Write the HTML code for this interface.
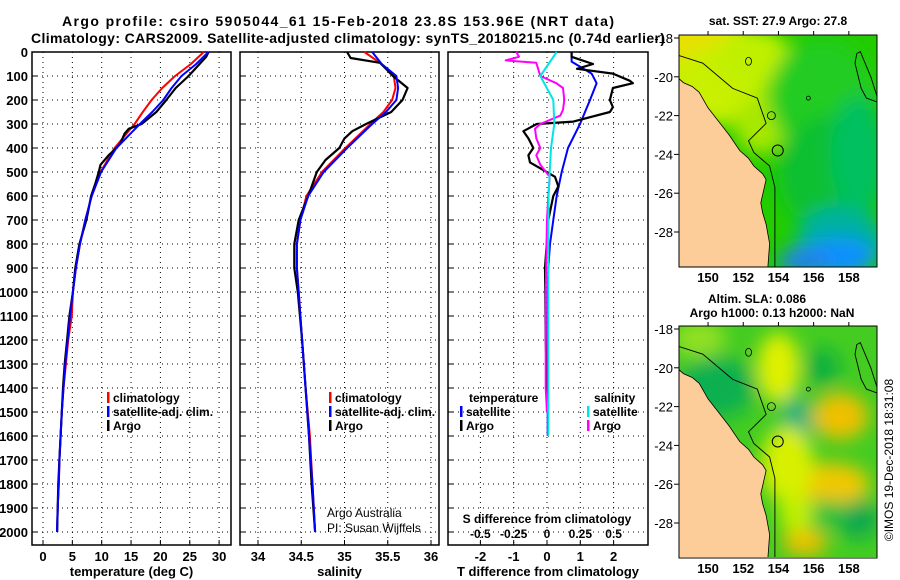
<!DOCTYPE html>
<html><head><meta charset="utf-8"><title>Argo profile</title>
<style>
html,body{margin:0;padding:0;background:#fff;}
svg{display:block;font-family:"Liberation Sans",Arial,sans-serif;font-weight:bold;}
text{fill:#000;}
</style></head>
<body>
<svg id="fig" width="900" height="580" viewBox="0 0 900 580" xmlns="http://www.w3.org/2000/svg">
<defs>
<filter id="blur1" x="-50%" y="-50%" width="200%" height="200%"><feGaussianBlur stdDeviation="9"/></filter>
<clipPath id="clipMap1"><rect x="679" y="35" width="198" height="232"/></clipPath>
<clipPath id="clipMap2"><rect x="679" y="326" width="198" height="231"/></clipPath>
</defs>
<text x="338" y="26" text-anchor="middle" font-size="14" textLength="552">Argo profile: csiro 5905044_61 15-Feb-2018 23.8S 153.96E (NRT data)</text>
<text x="348" y="43" text-anchor="middle" font-size="14" textLength="634">Climatology: CARS2009. Satellite-adjusted climatology: synTS_20180215.nc (0.74d earlier)</text>
<g id="panels"></g>
<g id="maps"></g>
<text transform="translate(893,460) rotate(-90)" text-anchor="middle" font-size="12" font-weight="normal">©IMOS 19-Dec-2018 18:31:08</text>
</svg>
<script>
// ---------- data ----------
const depthTicks = [0,100,200,300,400,500,600,700,800,900,1000,1100,1200,1300,1400,1500,1600,1700,1800,1900,2000];
const tempTicks = [0,5,10,15,20,25,30];
const salTicks = [34,34.5,35,35.5,36];
const tdiffTicks = [-2,-1,0,1,2];
const sdiffTicks = [-0.5,-0.25,0,0.25,0.5];
const sdiffTickLabels = ["-0.5","-0.25","0","0.25","0.5"];

// temperature profiles
const tArgoDepth = [0,20,60,100,150,200,250,300,320,340,380,400,430,470,500,550,600,650,700,800,900,1000,1100,1200,1300,1400,1500,1600,1700,1800,1900,2000];
const tArgoVal   = [28.2,27.8,26.3,24.8,22.6,21.0,19.3,16.8,14.6,13.9,13.2,12.5,11.2,9.8,9.5,8.9,8.2,7.8,7.4,6.2,5.5,5.1,4.5,4.1,3.7,3.4,3.2,3.0,2.8,2.6,2.5,2.4];
const tClimDepth = [0,50,100,150,200,250,300,400,500,600,700,800,900,1000,1100,1200,1300,1400,1500,1600,1700,1800,1900,2000];
const tClimVal   = [27.4,25.2,22.5,20.3,18.5,17.0,15.6,12.2,9.8,8.3,7.2,6.3,5.6,5.1,4.9,4.3,3.9,3.5,3.2,3.0,2.8,2.7,2.5,2.4];
const tSatDepth  = [0,50,100,150,200,250,300,400,500,600,700,800,900,1000,1100,1200,1300,1400,1500,1600,1700,1800,1900,2000];
const tSatVal    = [28.2,26.1,23.6,21.9,20.5,18.6,16.5,12.5,9.9,8.3,7.2,6.3,5.6,5.1,4.6,4.2,3.8,3.5,3.2,3.0,2.8,2.7,2.5,2.4];

// salinity profiles
const sArgoDepth = [0,25,45,70,100,150,200,250,300,330,360,400,450,500,600,700,800,900,1000,1200,1400,1600,1800,2000];
const sArgoVal   = [35.03,35.07,35.41,35.48,35.56,35.73,35.67,35.54,35.25,35.09,35.00,34.94,34.78,34.68,34.58,34.47,34.42,34.42,34.46,34.51,34.55,34.59,34.62,34.66];
const sClimDepth = [0,50,100,150,200,250,300,400,500,600,700,800,900,1000,1200,1400,1600,1800,2000];
const sClimVal   = [35.23,35.43,35.57,35.59,35.55,35.45,35.30,35.01,34.74,34.56,34.49,34.45,34.45,34.47,34.51,34.55,34.60,34.63,34.66];
const sSatDepth  = [0,50,100,150,200,250,300,400,500,600,700,800,900,1000,1200,1400,1600,1800,2000];
const sSatVal    = [35.32,35.43,35.60,35.62,35.60,35.48,35.32,35.03,34.76,34.58,34.49,34.45,34.45,34.47,34.51,34.55,34.59,34.63,34.66];

// differences from climatology
const dTSatDepth = [0,40,90,130,200,300,400,500,600,700,800,900,1000,1200,1400,1600];
const dTSatVal   = [0.74,0.74,1.34,1.49,1.29,0.99,0.63,0.44,0.29,0.19,0.09,0.04,0.02,0.02,0.02,0.02];
const dTArgoDepth = [0,20,50,70,90,120,130,150,200,230,250,290,300,330,360,400,430,460,500,520,560,600,700,800,900,1000,1200,1400,1500];
const dTArgoVal   = [0.74,0.74,1.38,0.9,1.98,2.49,2.58,1.98,1.89,1.98,1.89,0.79,-0.31,-0.71,-0.56,-0.41,-0.56,-0.51,-0.01,0.24,0.34,0.19,0.04,-0.01,-0.06,-0.05,-0.04,0.0,0.0];
const dSSatDepth = [0,100,200,300,400,500,600,800,1000,1200,1400,1600];
const dSSatVal   = [0.073,-0.05,0.047,0.055,0.03,0.02,0.012,0.01,0.01,0.01,0.01,0.01];
const dSArgoDepth = [0,20,35,45,100,130,150,200,240,265,300,320,360,400,430,470,520,600,700,1000,1200,1400,1500];
const dSArgoVal   = [-0.23,-0.21,-0.31,-0.08,-0.05,0.07,0.12,0.13,0.12,0.10,-0.05,-0.09,-0.08,-0.05,-0.08,-0.05,0.02,0.01,0.0,-0.01,-0.01,-0.01,0.0];

// map info
const mapLonTicks = [150,152,154,156,158];
const mapLatTicks = [-18,-20,-22,-24,-26,-28];
const coastLon = [148.35,148.6,149.1,149.5,150.0,150.6,151.2,151.8,152.3,152.6,153.1,153.3,153.0,153.1,153.3,153.5,153.4,148.35];
const coastLat = [-20.1,-20.3,-20.5,-20.8,-21.6,-22.3,-23.0,-23.8,-24.2,-24.6,-25.0,-25.3,-26.5,-27.0,-27.6,-28.6,-29.8,-29.8];
const isoLon = [148.35,149.7,151.4,152.8,153.3,152.3,152.6,153.5,153.8,153.8];
const isoLat = [-18.9,-19.3,-20.6,-21.1,-22.4,-23.3,-23.9,-24.6,-25.7,-29.8];
const iso2Lon = [159.6,159.0,158.7,158.35,158.45,158.65,159.25,159.6];
const iso2Lat = [-21.3,-21.1,-20.6,-19.3,-18.8,-18.7,-20.0,-21.0];
const argoLon = 153.96, argoLat = -23.8;

// ---------- helpers ----------
const NS = "http://www.w3.org/2000/svg";
function mk(tag, attrs, parent){ const e=document.createElementNS(NS,tag); for(const k in attrs) e.setAttribute(k,attrs[k]); parent.appendChild(e); return e; }
const Y0 = 52, YS = 0.24, YB = 545;
const yD = d => Y0 + d*YS;
const panelsG = document.getElementById('panels');
const mapsG = document.getElementById('maps');

function panel(name, x0, x1, xf, ticks, tickLabels, xlabel){
  const g = mk('g',{},panelsG);
  
  
  depthTicks.forEach(d=>{
    const l=mk('line',{x1:x0,x2:x1,y1:yD(d),y2:yD(d),stroke:'#000','stroke-width':1,'stroke-dasharray':'1,4'},g);
    
    
    const t=mk('line',{x1:x0,x2:x0+5,y1:yD(d),y2:yD(d),stroke:'#000','stroke-width':1},g);
    
    
  });
  ticks.forEach((v,i)=>{
    const x=xf(v);
    const l=mk('line',{x1:x,x2:x,y1:Y0,y2:YB,stroke:'#000','stroke-width':1,'stroke-dasharray':'1,4'},g);
    
    
    const t=mk('line',{x1:x,x2:x,y1:YB,y2:YB-5,stroke:'#000'},g);
    
    
    const tl=mk('text',{x:x,y:561,'text-anchor':'middle','font-size':13},g);
    tl.textContent = tickLabels[i];
    
    
  });
  const r=mk('rect',{x:x0,y:Y0,width:x1-x0,height:YB-Y0,fill:'none',stroke:'#000','stroke-width':1.5},g);
  
  
  const xl=mk('text',{x:(x0+x1)/2,y:576,'text-anchor':'middle','font-size':13},g);
  xl.textContent=xlabel;
  
  
  return g;
}
function line(g, name, depths, vals, xf, color, w){
  const pts = depths.map((d,i)=>xf(vals[i]).toFixed(1)+','+yD(d).toFixed(1)).join(' ');
  const p=mk('polyline',{points:pts,fill:'none',stroke:color,'stroke-width':w||2,'stroke-linejoin':'round'},g);
  
  
}
function legend(g, x, y, items){
  items.forEach((it,i)=>{
    const yy=y+i*14;
    const m=mk('rect',{x:x,y:yy-10,width:2.5,height:11,fill:it[1]},g);
    
    
    const t=mk('text',{x:x+6,y:yy,'font-size':12},g);
    t.textContent=it[0];
    
    
  });
}

depthTicks.forEach(d=>{
  const t=mk('text',{x:28,y:yD(d)+5,'text-anchor':'end','font-size':13},panelsG);
  t.textContent=d;
  
  
});

// panel 1: temperature
const xT = v => 43 + v*5.87;
const p1 = panel('temperature-panel', 32, 231, xT, tempTicks, tempTicks.map(String), 'temperature (deg C)');
line(p1,'temp-climatology-line',tClimDepth,tClimVal,xT,'#ff0000');
line(p1,'temp-argo-line',tArgoDepth,tArgoVal,xT,'#000000',2.2);
line(p1,'temp-satellite-line',tSatDepth,tSatVal,xT,'#0000ff');
legend(p1,107,402,[['climatology','#ff0000'],['satellite-adj. clim.','#0000ff'],['Argo','#000']]);

// panel 2: salinity
const xS = v => 258 + (v-34)*86.5;
const p2 = panel('salinity-panel', 240, 439, xS, salTicks, ['34','34.5','35','35.5','36'], 'salinity');
line(p2,'sal-climatology-line',sClimDepth,sClimVal,xS,'#ff0000');
line(p2,'sal-argo-line',sArgoDepth,sArgoVal,xS,'#000000',2.2);
line(p2,'sal-satellite-line',sSatDepth,sSatVal,xS,'#0000ff');
legend(p2,329,402,[['climatology','#ff0000'],['satellite-adj. clim.','#0000ff'],['Argo','#000']]);
[['Argo Australia',517],['PI: Susan Wijffels',532]].forEach(a=>{
  const t=mk('text',{x:327,y:a[1],'font-size':12,'font-weight':'normal'},p2);
  t.textContent=a[0];
  
  
});

// panel 3: differences
const xTD = v => 547 + v*33.3;
const xSD = v => 547 + v*133.3;
const p3 = panel('difference-panel', 448, 648, xTD, tdiffTicks, tdiffTicks.map(String), 'T difference from climatology');
line(p3,'tdiff-satellite-line',dTSatDepth,dTSatVal,xTD,'#0000ff');
line(p3,'tdiff-argo-line',dTArgoDepth,dTArgoVal,xTD,'#000000',2.2);
line(p3,'sdiff-argo-line',dSArgoDepth,dSArgoVal,xSD,'#ff00ff');
line(p3,'sdiff-satellite-line',dSSatDepth,dSSatVal,xSD,'#00e5e5');
sdiffTicks.forEach((v,i)=>{
  const t=mk('text',{x:xSD(v),y:538,'text-anchor':'middle','font-size':12},p3);
  t.textContent=sdiffTickLabels[i];
  
  
});
{
  const t=mk('text',{x:547,y:523,'text-anchor':'middle','font-size':12},p3);
  t.textContent='S difference from climatology';
  
  
  const a=mk('text',{x:469,y:402,'font-size':12},p3);
  a.textContent='temperature';
  
  
  const b=mk('text',{x:594,y:402,'font-size':12},p3);
  b.textContent='salinity';
  
  
}
legend(p3,460,416,[['satellite','#0000ff'],['Argo','#000']]);
legend(p3,587,416,[['satellite','#00e5e5'],['Argo','#ff00ff']]);

// ---------- maps ----------
function drawMap(name, top, titleLines, blobs, baseColor, clipId){
  const g=mk('g',{},mapsG);
  
  
  const X = l => 679 + (l-148.35)*17.6;
  const Y = la => top+3 + (-18-la)*19.4;
  const bottom = top+232;
  const cg=mk('g',{'clip-path':'url(#'+clipId+')'},g);
  mk('rect',{x:679,y:top,width:198,height:232,fill:baseColor},cg);
  const bg=mk('g',{filter:'url(#blur1)'},cg);
  blobs.forEach(b=>{
    const e=mk('ellipse',{cx:X(b[0]),cy:Y(b[1]),rx:b[2]*17.6,ry:b[3]*19.4,fill:b[4]},bg);
    
    
  });
  const land=mk('polygon',{points:coastLon.map((l,i)=>X(l).toFixed(1)+','+Y(coastLat[i]).toFixed(1)).join(' '),fill:'#fccc99',stroke:'#000','stroke-width':0.8},cg);
  
  
  const iso=mk('polyline',{points:isoLon.map((l,i)=>X(l).toFixed(1)+','+Y(isoLat[i]).toFixed(1)).join(' '),fill:'none',stroke:'#000','stroke-width':0.9},cg);
  
  
  const iso2=mk('polyline',{points:iso2Lon.map((l,i)=>X(l).toFixed(1)+','+Y(iso2Lat[i]).toFixed(1)).join(' '),fill:'none',stroke:'#000','stroke-width':0.9},cg);
  
  
  [[152.3,-19.2,3,4],[153.6,-22.0,4,4],[155.7,-21.1,2,2]].forEach(c=>{
    const e=mk('ellipse',{cx:X(c[0]),cy:Y(c[1]),rx:c[2],ry:c[3],fill:'none',stroke:'#000','stroke-width':0.8},cg);
    
    
  });
  const pos=mk('circle',{cx:X(argoLon),cy:Y(argoLat),r:5.5,fill:'none',stroke:'#000','stroke-width':1},cg);
  
  
  const fr=mk('rect',{x:679,y:top,width:198,height:232,fill:'none',stroke:'#000','stroke-width':1},g);
  
  
  mapLatTicks.forEach(la=>{
    const t=mk('text',{x:673,y:Y(la)+5,'text-anchor':'end','font-size':13,'font-weight':'normal'},g);
    t.textContent=la;
    
    
    const tk=mk('line',{x1:674,x2:679,y1:Y(la),y2:Y(la),stroke:'#000'},g);
    
    
  });
  mapLonTicks.forEach(lo=>{
    const t=mk('text',{x:X(lo),y:bottom+15,'text-anchor':'middle','font-size':13},g);
    t.textContent=lo;
    
    
    const tk=mk('line',{x1:X(lo),x2:X(lo),y1:top-4,y2:top,stroke:'#000'},g);
    
    
  });
  titleLines.forEach((s,i)=>{
    const t=mk('text',{x:s[1],y:s[2],'text-anchor':'middle','font-size':12},g);
    t.textContent=s[0];
    
    
  });
}
drawMap('sst-map',35,[['sat. SST: 27.9 Argo: 27.8',778,25]],[
  [149.5,-18.5,3,2.2,'#e8e000'],
  [150.5,-20.5,2.8,2,'#c8f000'],
  [152.5,-19,2.2,1.5,'#c0f000'],
  [153,-22.5,1.5,1.5,'#a8e800'],
  [156.5,-21,3,3,'#22cc22'],
  [157,-25,3,3,'#10c030'],
  [157.5,-28.5,2.5,1.8,'#00b0a0'],
  [157.5,-29.3,2,1,'#1090ff'],
  [155.5,-29.5,1.5,0.7,'#2080f0'],
  [158.5,-24,1.5,3,'#00c060']
],'#22cc00','clipMap1');
drawMap('sla-map',326,[['Altim. SLA: 0.086',757,303],['Argo h1000: 0.13 h2000: NaN',772,317]],[
  [150.5,-21,2.2,1.6,'#10b050'],
  [149.5,-18.5,1.5,1,'#90e020'],
  [154,-20,1.2,1.8,'#e0f000'],
  [155,-23,0.9,1.6,'#10b080'],
  [156.5,-20,1,1,'#10b040'],
  [157.5,-22.5,1.6,1.2,'#f0c000'],
  [157,-26,2.2,1.1,'#f0c800'],
  [154.5,-25,1.5,2,'#d8f000'],
  [155.5,-29,1.3,0.7,'#f0c000'],
  [158.5,-27.8,1.2,1,'#10a850'],
  [156.5,-27.5,1.5,0.7,'#20c040'],
  [155,-27.5,1,1,'#c0f000']
],'#44cc22','clipMap2');
</script>
</body></html>
